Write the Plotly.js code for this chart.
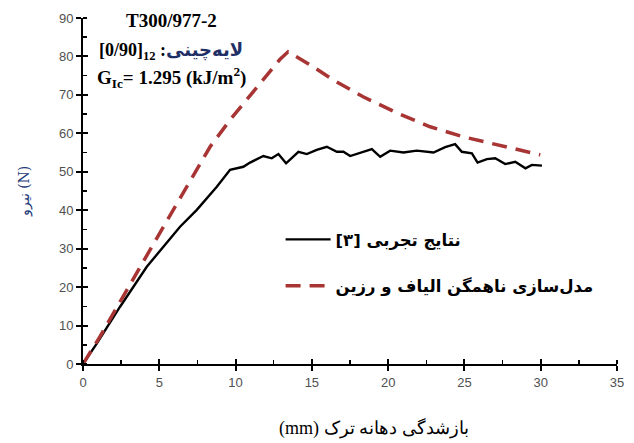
<!DOCTYPE html>
<html>
<head>
<meta charset="utf-8">
<script src="https://cdn.plot.ly/plotly-3.0.1.min.js"></script>
<style>html,body{margin:0;padding:0;background:#fff;}#chart{width:634px;height:443px;}</style>
</head>
<body>
<div id="chart"></div>
<script>
// Experimental results (black solid)
const expX = [0, 0.9, 2.43, 4.18, 6.36, 7.46, 8.77, 9.64, 10.51, 10.95, 11.82, 12.37, 12.81, 13.31, 14.12, 14.67, 15.32, 15.98, 16.64, 17.07, 17.51, 18.38, 18.93, 19.48, 20.13, 21.0, 21.88, 22.97, 23.74, 24.39, 24.83, 25.49, 25.86, 26.47, 27.02, 27.67, 28.33, 29.0, 29.42, 30.08];
const expY = [0, 5.3, 14.9, 25.3, 35.7, 40.1, 46.1, 50.5, 51.3, 52.4, 54.1, 53.5, 54.6, 52.2, 55.2, 54.6, 55.7, 56.5, 55.2, 55.2, 54.1, 55.2, 55.9, 53.9, 55.5, 55.0, 55.5, 55.0, 56.4, 57.2, 55.2, 54.8, 52.4, 53.3, 53.5, 52.0, 52.6, 50.9, 51.8, 51.6];
// Heterogeneous fibre/resin model (red dashed)
const modX = [0, 1.11, 5.27, 8.33, 9.64, 11.82, 12.9, 13.44, 14.89, 16.39, 18.36, 20.59, 22.75, 24.92, 27.15, 29.97];
const modY = [0, 7.1, 35.7, 56.5, 63.5, 73.9, 79.2, 81.2, 77.8, 73.9, 69.5, 65.3, 61.7, 59.1, 57.0, 54.4];

const xTicks = [0, 5, 10, 15, 20, 25, 30, 35];
const yTicks = [0, 10, 20, 30, 40, 50, 60, 70, 80, 90];
const LRE = '\u202A', PDF = '\u202C';
const seriesNames = [LRE + "[۳] نتایج تجربی" + PDF, "مدل‌سازی ناهمگن الیاف و رزین"];

const traces = [
  {x: expX, y: expY, type: 'scatter', mode: 'lines', name: seriesNames[0], legendgroup: 'a',
   line: {color: '#000000', width: 2.4}},
  {x: modX, y: modY, type: 'scatter', mode: 'lines', name: seriesNames[1], legendgroup: 'b',
   line: {color: '#A83434', width: 3.5, dash: '15px,9px'}},
  {x: [], y: [], xaxis: 'x2', yaxis: 'y', showlegend: false, hoverinfo: 'skip'},
  {x: [], y: [], xaxis: 'x', yaxis: 'y2', showlegend: false, hoverinfo: 'skip'}
];

const tickFont = {family: 'Liberation Sans, Arial, sans-serif', size: 13, color: '#505050'};
const layout = {
  width: 634, height: 443,
  margin: {l: 83, r: 17, t: 18, b: 79},
  paper_bgcolor: '#ffffff', plot_bgcolor: '#ffffff',
  showlegend: true,
  legend: {x: 0.37, y: 0.41, xanchor: 'left', yanchor: 'top', bgcolor: 'rgba(0,0,0,0)',
           font: {family: 'DejaVu Sans, sans-serif', size: 16.5, color: '#000', weight: 'bold'},
           traceorder: 'grouped', tracegroupgap: 22, itemwidth: 45},
  xaxis: {range: [0, 35], tickvals: xTicks, ticktext: xTicks.map(String), showgrid: false, zeroline: false,
          showline: true, linecolor: '#000', linewidth: 2, ticks: 'outside', ticklen: 5, tickwidth: 2, tickcolor: '#000',
          tickfont: tickFont, minor: {dtick: 2.5, ticks: 'inside', ticklen: 4, tickwidth: 1.5, tickcolor: '#000', showgrid: false}},
  xaxis2: {overlaying: 'x', matches: 'x', anchor: 'y', range: [0, 35], tickvals: xTicks, showticklabels: false, showgrid: false,
           zeroline: false, showline: false, ticks: 'inside', ticklen: 5, tickwidth: 2, tickcolor: '#000'},
  yaxis: {range: [0, 90], tickvals: yTicks, ticktext: yTicks.map(String), showgrid: false, zeroline: false,
          showline: true, linecolor: '#000', linewidth: 2, ticks: 'outside', ticklen: 5, tickwidth: 2, tickcolor: '#000',
          tickfont: tickFont, minor: {dtick: 5, ticks: 'inside', ticklen: 4, tickwidth: 1.5, tickcolor: '#000', showgrid: false},
          title: {text: LRE + 'نیرو (N)' + PDF, font: {family: 'DejaVu Serif, Liberation Serif, serif', size: 14, color: '#1F3B7A'}, standoff: 26}},
  yaxis2: {overlaying: 'y', matches: 'y', anchor: 'x', range: [0, 90], tickvals: yTicks, showticklabels: false, showgrid: false,
           zeroline: false, showline: false, ticks: 'inside', ticklen: 5, tickwidth: 2, tickcolor: '#000'},
  annotations: [
    {xref: 'paper', yref: 'paper', x: 0.545, y: -0.185, xanchor: 'center', yanchor: 'middle', showarrow: false,
     text: LRE + '(mm) بازشدگی دهانه ترک' + PDF, font: {family: 'Liberation Serif, DejaVu Serif, serif', size: 18, color: '#000'}},
    {xref: 'paper', yref: 'paper', x: 0.165, y: 0.994, xanchor: 'center', yanchor: 'middle', showarrow: false,
     text: 'T300/977-2', font: {family: 'Liberation Serif, serif', size: 19, color: '#000', weight: 'bold'}},
    {xref: 'paper', yref: 'paper', x: 0.165, y: 0.902, xanchor: 'center', yanchor: 'middle', showarrow: false,
     text: '[0/90]<sub>12</sub>' + LRE + ' :' + '<span style="color:#1F2F66">لایه‌چینی</span>' + PDF, font: {family: 'Liberation Serif, DejaVu Sans, serif', size: 18, color: '#000', weight: 'bold'}},
    {xref: 'paper', yref: 'paper', x: 0.165, y: 0.827, xanchor: 'center', yanchor: 'middle', showarrow: false,
     text: 'G<sub>Ic</sub>= 1.295 (kJ/m<sup>2</sup>)', font: {family: 'Liberation Serif, serif', size: 19, color: '#000', weight: 'bold'}}
  ]
};

Plotly.newPlot('chart', traces, layout, {displayModeBar: false, staticPlot: true});
</script>
</body>
</html>
